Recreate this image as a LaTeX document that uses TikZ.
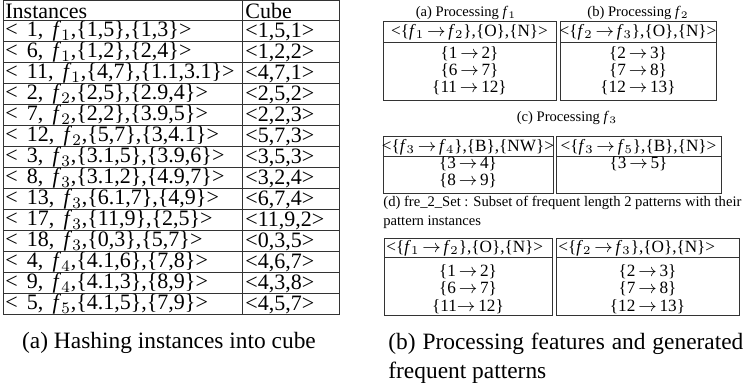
\documentclass[tikz,border=0pt]{standalone}
\usepackage{fontspec}
\setmainfont{Liberation Serif}
\usetikzlibrary{positioning}
\newcommand{\ftr}[1]{\textit{f}$_{#1}$}
\newcommand{\ra}{\,$\rightarrow$\,}

\begin{document}
\begin{tikzpicture}
    [
        x=0.5pt, y=-0.5pt,
        grid line/.style = {
            draw=black!80, line width=0.5pt
        },
        cell/.style = {
            inner sep=0pt, anchor=west, font=\fontsize{11}{12}\selectfont
        },
        entry/.style = {
            inner sep=0pt, font=\fontsize{8.6}{10}\selectfont
        },
        subcap/.style = {
            inner sep=0pt, font=\fontsize{7.3}{8.5}\selectfont
        },
        maincap/.style = {
            inner sep=0pt, font=\fontsize{11.7}{14.5}\selectfont
        },
    ]
    \useasboundingbox (0,0) rectangle (746,390);
    %\draw[help lines] (0,0) grid (746,390);

    % (a) hashing table
    \draw[grid line] (3,1) rectangle (339,315);
    \draw[grid line] (242,1) -- (242,315);
    \draw[grid line] (3,21) -- (339,21);
    \draw[grid line] (3,42) -- (339,42);
    \draw[grid line] (3,63) -- (339,63);
    \draw[grid line] (3,84) -- (339,84);
    \draw[grid line] (3,105) -- (339,105);
    \draw[grid line] (3,126) -- (339,126);
    \draw[grid line] (3,147) -- (339,147);
    \draw[grid line] (3,168) -- (339,168);
    \draw[grid line] (3,189) -- (339,189);
    \draw[grid line] (3,210) -- (339,210);
    \draw[grid line] (3,231) -- (339,231);
    \draw[grid line] (3,252) -- (339,252);
    \draw[grid line] (3,273) -- (339,273);
    \draw[grid line] (3,294) -- (339,294);

    \node[cell] (inst) at (5,11) {Instances};
    \node[cell] (cube) at (245,11) {Cube};
    \node[cell] (i1) at (5,31.5) {<\, 1,\, \ftr{1},\{1,5\},\{1,3\}>};
    \node[cell] (c1) at (245,31.5) {<1,5,1>};
    \node[cell] (i6) at (5,52.5) {<\, 6,\, \ftr{1},\{1,2\},\{2,4\}>};
    \node[cell] (c6) at (245,52.5) {<1,2,2>};
    \node[cell] (i11) at (5,73.5) {<\, 11,\, \ftr{1},\{4,7\},\{1.1,3.1\}>};
    \node[cell] (c11) at (245,73.5) {<4,7,1>};
    \node[cell] (i2) at (5,94.5) {<\, 2,\, \ftr{2},\{2,5\},\{2.9,4\}>};
    \node[cell] (c2) at (245,94.5) {<2,5,2>};
    \node[cell] (i7) at (5,115.5) {<\, 7,\, \ftr{2},\{2,2\},\{3.9,5\}>};
    \node[cell] (c7) at (245,115.5) {<2,2,3>};
    \node[cell] (i12) at (5,136.5) {<\, 12,\, \ftr{2},\{5,7\},\{3,4.1\}>};
    \node[cell] (c12) at (245,136.5) {<5,7,3>};
    \node[cell] (i3) at (5,157.5) {<\, 3,\, \ftr{3},\{3.1,5\},\{3.9,6\}>};
    \node[cell] (c3) at (245,157.5) {<3,5,3>};
    \node[cell] (i8) at (5,178.5) {<\, 8,\, \ftr{3},\{3.1,2\},\{4.9,7\}>};
    \node[cell] (c8) at (245,178.5) {<3,2,4>};
    \node[cell] (i13) at (5,199.5) {<\, 13,\, \ftr{3},\{6.1,7\},\{4,9\}>};
    \node[cell] (c13) at (245,199.5) {<6,7,4>};
    \node[cell] (i17) at (5,220.5) {<\, 17,\, \ftr{3},\{11,9\},\{2,5\}>};
    \node[cell] (c17) at (245,220.5) {<11,9,2>};
    \node[cell] (i18) at (5,241.5) {<\, 18,\, \ftr{3},\{0,3\},\{5,7\}>};
    \node[cell] (c18) at (245,241.5) {<0,3,5>};
    \node[cell] (i4) at (5,262.5) {<\, 4,\, \ftr{4},\{4.1,6\},\{7,8\}>};
    \node[cell] (c4) at (245,262.5) {<4,6,7>};
    \node[cell] (i9) at (5,283.5) {<\, 9,\, \ftr{4},\{4.1,3\},\{8,9\}>};
    \node[cell] (c9) at (245,283.5) {<4,3,8>};
    \node[cell] (i5) at (5,304.5) {<\, 5,\, \ftr{5},\{4.1,5\},\{7,9\}>};
    \node[cell] (c5) at (245,304.5) {<4,5,7>};

    \node[maincap] (capa) at (169,343) {(a) Hashing instances into cube};

    % (b) processing features
    \node[subcap] (pf1) at (466,13) {(a) Processing \ftr{1}};
    \node[subcap] (pf2) at (638,13) {(b) Processing \ftr{2}};

    \draw[grid line] (383,22) rectangle (556,101);
    \draw[grid line] (383,43) -- (556,43);
    \node[entry] (h12) at (469.5,32.5) {<\{\ftr{1}\ra\ftr{2}\},\{O\},\{N\}>};
    \node[entry] (r12a) at (469.5,54) {\{1\ra2\}};
    \node[entry] (r12b) at (469.5,71) {\{6\ra7\}};
    \node[entry] (r12c) at (469.5,88) {\{11\ra12\}};

    \draw[grid line] (560,22) rectangle (716,101);
    \draw[grid line] (560,43) -- (716,43);
    \node[entry] (h23) at (638,32.5) {<\{\ftr{2}\ra\ftr{3}\},\{O\},\{N\}>};
    \node[entry] (r23a) at (638,54) {\{2\ra3\}};
    \node[entry] (r23b) at (638,71) {\{7\ra8\}};
    \node[entry] (r23c) at (638,88) {\{12\ra13\}};

    \node[subcap] (pf3) at (567,118) {(c) Processing \ftr{3}};

    \draw[grid line] (383,137) rectangle (553,194);
    \draw[grid line] (383,157) -- (553,157);
    \node[entry] (h34) at (468,147) {<\{\ftr{3}\ra\ftr{4}\},\{B\},\{NW\}>};
    \node[entry] (r34a) at (468,164) {\{3\ra4\}};
    \node[entry] (r34b) at (468,181) {\{8\ra9\}};

    \draw[grid line] (556,137) rectangle (721,194);
    \draw[grid line] (556,157) -- (721,157);
    \node[entry] (h35) at (638.5,147) {<\{\ftr{3}\ra\ftr{5}\},\{B\},\{N\}>};
    \node[entry] (r35a) at (638.5,164) {\{3\ra5\}};

    \node[subcap, anchor=west] (pf4) at (383,203) {(d) fre\_2\_Set : Subset of frequent length 2 patterns with their};
    \node[subcap, anchor=west] (pf5) at (383,222) {pattern instances};

    \draw[grid line] (384,239) rectangle (552,316);
    \draw[grid line] (384,258) -- (552,258);
    \node[entry, anchor=west] (g12) at (386,248.5) {<\{\ftr{1}\ra\ftr{2}\},\{O\},\{N\}>};
    \node[entry] (s12a) at (468,272) {\{1\ra2\}};
    \node[entry] (s12b) at (468,289) {\{6\ra7\}};
    \node[entry] (s12c) at (468,307) {\{11$\rightarrow$\,12\}};

    \draw[grid line] (556,239) rectangle (739,316);
    \draw[grid line] (556,258) -- (739,258);
    \node[entry, anchor=west] (g23) at (558,248.5) {<\{\ftr{2}\ra\ftr{3}\},\{O\},\{N\}>};
    \node[entry] (s23a) at (647.5,272) {\{2\ra3\}};
    \node[entry] (s23b) at (647.5,289) {\{7\ra8\}};
    \node[entry] (s23c) at (647.5,307) {\{12\ra13\}};

    \node[maincap, anchor=north west, text width=177.5pt, align=justify] (capb) at (388,333)
        {(b) Processing features and generated frequent patterns};
\end{tikzpicture}
\end{document}
